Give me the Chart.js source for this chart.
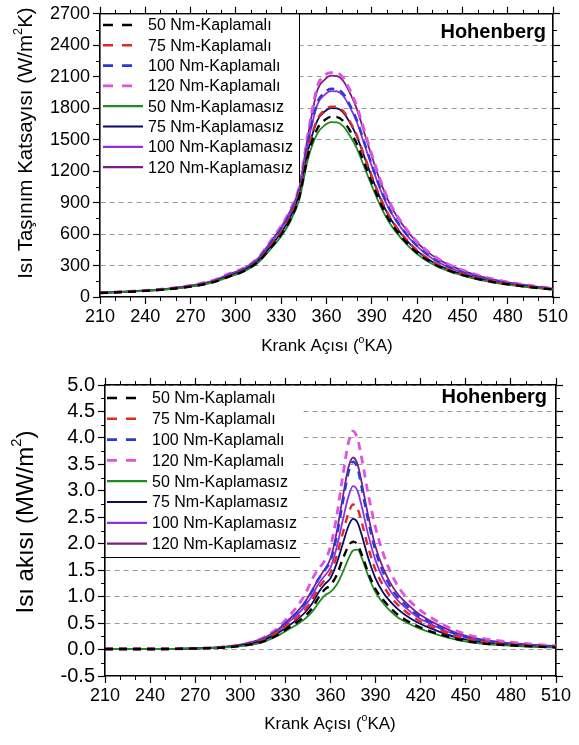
<!DOCTYPE html>
<html>
<head>
<meta charset="utf-8">
<script src="https://cdn.jsdelivr.net/npm/chart.js@4.4.1/dist/chart.umd.min.js"></script>
<style>
html,body{margin:0;padding:0;background:#fff;}
canvas{display:block;}
</style>
</head>
<body>
<canvas id="hChart" width="579" height="360"></canvas>
<canvas id="qChart" width="579" height="385"></canvas>
<script>
// ---------- data ----------
const seriesNames = ['50 Nm-Kaplamalı','75 Nm-Kaplamalı','100 Nm-Kaplamalı','120 Nm-Kaplamalı',
                     '50 Nm-Kaplamasız','75 Nm-Kaplamasız','100 Nm-Kaplamasız','120 Nm-Kaplamasız'];

const xTickLabels = [210,240,270,300,330,360,390,420,450,480,510];
const hTickLabels = [0,300,600,900,1200,1500,1800,2100,2400,2700];
const qTickLabels = [-0.5,0,0.5,1,1.5,2,2.5,3,3.5,4,4.5,5];

// heat transfer coefficient, W/m2K
const angleH = [210,225,240,255,270,285,295,305,315,322,330,336,342,348,354,359,363,367,371,375,380,385,390,396,402,410,420,430,440,455,470,490,510];
const h50c  = [38,47,58,74,99,142,193,247,340,453,597,740,955,1370,1607,1689,1718,1715,1679,1597,1463,1277,1092,886,721,566,422,324,257,190,143,102,71];
const h75c  = [39,48,60,76,101,146,199,254,351,471,620,768,990,1423,1697,1784,1815,1812,1774,1686,1545,1349,1153,936,762,598,444,341,269,198,148,106,73];
const h100c = [40,49,61,78,105,152,209,266,368,497,655,806,1030,1503,1856,1951,1985,1981,1940,1845,1690,1476,1261,1023,833,654,488,373,293,214,158,111,77];
const h120c = [42,51,63,81,110,160,220,274,379,515,679,832,1060,1580,2012,2117,2140,2136,2091,1989,1822,1591,1360,1103,898,706,527,404,318,233,172,121,82];
const h50u  = [38,47,58,74,98,140,190,240,330,440,580,720,930,1330,1560,1640,1668,1665,1630,1550,1420,1240,1060,860,700,550,410,315,250,185,140,100,70];
const h75u  = [39,48,60,76,101,145,198,252,348,466,615,760,980,1410,1685,1771,1801,1798,1760,1674,1534,1339,1145,929,756,594,440,337,266,196,147,105,73];
const h100u = [40,49,61,78,104,151,207,264,365,493,650,800,1020,1490,1836,1930,1963,1960,1919,1824,1671,1459,1248,1012,824,647,482,368,290,212,157,110,76];
const h120u = [41,50,62,80,108,157,215,270,373,506,667,820,1045,1560,1973,2075,2110,2106,2062,1961,1796,1569,1341,1088,886,696,519,397,313,228,168,118,80];

// heat flux, MW/m2
const angleQ = [210,240,270,290,305,315,325,332,338,343,348,352,356,360,364,368,372,375,378,381,385,390,395,400,405,410,418,426,435,445,460,480,495,510];
const q50c  = [0.01,0.01,0.02,0.04,0.09,0.15,0.28,0.41,0.52,0.63,0.79,0.98,1.13,1.22,1.40,1.70,1.96,2.04,1.98,1.78,1.46,1.14,0.94,0.78,0.65,0.56,0.44,0.35,0.27,0.19,0.12,0.08,0.06,0.04];
const q75c  = [0.01,0.01,0.02,0.05,0.10,0.18,0.33,0.48,0.61,0.75,0.95,1.16,1.31,1.45,1.76,2.18,2.58,2.74,2.66,2.38,1.94,1.50,1.21,1.00,0.84,0.72,0.56,0.45,0.34,0.24,0.15,0.10,0.07,0.05];
const q100c = [0.01,0.01,0.02,0.05,0.11,0.20,0.37,0.55,0.71,0.88,1.12,1.33,1.49,1.68,2.12,2.75,3.35,3.55,3.42,3.02,2.44,1.86,1.46,1.18,0.98,0.84,0.65,0.52,0.40,0.28,0.18,0.11,0.08,0.06];
const q120c = [0.01,0.01,0.02,0.05,0.12,0.22,0.41,0.62,0.82,1.04,1.34,1.53,1.67,1.95,2.50,3.25,3.92,4.13,3.98,3.58,2.95,2.30,1.82,1.46,1.19,1.00,0.78,0.62,0.47,0.34,0.22,0.14,0.10,0.07];
const q50u  = [0.01,0.01,0.02,0.04,0.08,0.14,0.26,0.38,0.48,0.58,0.72,0.88,1.02,1.09,1.22,1.45,1.72,1.87,1.89,1.72,1.40,1.08,0.88,0.72,0.60,0.52,0.41,0.33,0.25,0.18,0.11,0.07,0.05,0.04];
const q75u  = [0.01,0.01,0.02,0.05,0.10,0.17,0.31,0.45,0.57,0.70,0.88,1.08,1.23,1.35,1.62,1.98,2.34,2.47,2.40,2.14,1.74,1.34,1.08,0.90,0.76,0.65,0.51,0.41,0.31,0.22,0.14,0.09,0.06,0.05];
const q100u = [0.01,0.01,0.02,0.05,0.11,0.19,0.35,0.52,0.66,0.82,1.03,1.24,1.39,1.55,1.92,2.42,2.90,3.09,3.00,2.68,2.18,1.68,1.34,1.10,0.92,0.79,0.61,0.49,0.37,0.27,0.17,0.11,0.08,0.06];
const q120u = [0.01,0.01,0.02,0.05,0.12,0.21,0.38,0.56,0.72,0.90,1.13,1.34,1.51,1.72,2.20,2.85,3.45,3.63,3.50,3.12,2.54,1.94,1.54,1.25,1.04,0.89,0.69,0.55,0.42,0.30,0.19,0.12,0.09,0.06];

// ---------- styling ----------
const FONT = '"Liberation Sans", Arial, Helvetica, sans-serif';
const lineStyles = [
  {color:'#000000', dash:[8,6], width:2.4},
  {color:'#e02a22', dash:[8,6], width:2.4},
  {color:'#2a3ad6', dash:[8,6], width:2.4},
  {color:'#e052e0', dash:[8,6], width:2.8},
  {color:'#1e8c1e', dash:[],    width:1.8},
  {color:'#0a0a6a', dash:[],    width:1.8},
  {color:'#8f2fe0', dash:[],    width:1.8},
  {color:'#7d1d80', dash:[],    width:1.8}
];

function buildDatasets(angles, seriesList) {
  return seriesList.map((vals, i) => ({
    label: seriesNames[i],
    data: angles.map((a, k) => ({x: a, y: vals[k]})),
    borderColor: lineStyles[i].color,
    borderDash: lineStyles[i].dash,
    borderWidth: lineStyles[i].width,
    pointRadius: 0,
    fill: false,
    cubicInterpolationMode: 'monotone'
  }));
}

// rich text with superscripts
function drawRich(ctx, parts, cx, cy, size, rotated) {
  ctx.save();
  ctx.translate(cx, cy);
  if (rotated) ctx.rotate(-Math.PI / 2);
  const supSize = size * 0.62;
  let total = 0;
  parts.forEach(p => {
    ctx.font = (p.sup ? supSize : size) + 'px ' + FONT;
    p.w = ctx.measureText(p.t).width;
    total += p.w;
  });
  let x = -total / 2;
  ctx.textBaseline = 'middle';
  ctx.textAlign = 'left';
  ctx.fillStyle = '#000';
  parts.forEach(p => {
    ctx.font = (p.sup ? supSize : size) + 'px ' + FONT;
    ctx.fillText(p.t, x, p.sup ? -size * 0.36 : 0);
    x += p.w;
  });
  ctx.restore();
}

// frame decorations: minor ticks, titles, in-plot legend and label
const decoPlugin = {
  id: 'deco',
  afterDraw(chart, args, o) {
    const ctx = chart.ctx;
    const a = chart.chartArea;
    const xs = chart.scales.x, ys = chart.scales.y;

    // minor ticks on all four sides
    ctx.save();
    ctx.strokeStyle = '#000';
    ctx.lineWidth = 1;
    ctx.beginPath();
    for (let v = xs.min; v <= xs.max + 1e-9; v += o.minorX) {
      if (Math.abs(((v - xs.min) / o.majorX) - Math.round((v - xs.min) / o.majorX)) < 1e-6) continue;
      const px = Math.round(xs.getPixelForValue(v)) + 0.5;
      ctx.moveTo(px, a.bottom); ctx.lineTo(px, a.bottom + 4);
      ctx.moveTo(px, a.top); ctx.lineTo(px, a.top - 4);
    }
    for (let v = ys.min; v <= ys.max + 1e-9; v += o.minorY) {
      if (Math.abs(((v - ys.min) / o.majorY) - Math.round((v - ys.min) / o.majorY)) < 1e-6) continue;
      const py = Math.round(ys.getPixelForValue(v)) + 0.5;
      ctx.moveTo(a.left, py); ctx.lineTo(a.left - 4, py);
      ctx.moveTo(a.right, py); ctx.lineTo(a.right + 4, py);
    }
    ctx.stroke();
    ctx.restore();

    // legend box
    const L = o.legend;
    ctx.save();
    ctx.fillStyle = '#fff';
    ctx.fillRect(a.left + 1, a.top + 1, L.right - a.left - 1, L.bottom - a.top - 1);
    ctx.strokeStyle = '#000';
    ctx.lineWidth = 1;
    ctx.beginPath();
    if (L.rightBorder) { ctx.moveTo(L.right + 0.5, a.top); ctx.lineTo(L.right + 0.5, L.bottom); }
    if (L.bottomBorder) { ctx.moveTo(a.left, L.bottom + 0.5); ctx.lineTo(L.right, L.bottom + 0.5); }
    ctx.stroke();
    chart.data.datasets.forEach((ds, i) => {
      const y = L.firstRow + i * L.rowGap;
      ctx.save();
      ctx.strokeStyle = ds.borderColor;
      ctx.lineWidth = ds.borderDash.length ? 2.6 : 2.2;
      ctx.setLineDash(ds.borderDash.length ? [10, 9] : []);
      ctx.beginPath();
      ctx.moveTo(L.sampleX0, y);
      ctx.lineTo(ds.borderDash.length ? L.sampleX1 - 2 : L.sampleX1, y);
      ctx.stroke();
      ctx.restore();
      ctx.fillStyle = '#000';
      ctx.font = L.size + 'px ' + FONT;
      ctx.textBaseline = 'middle';
      ctx.textAlign = 'left';
      ctx.fillText(ds.label, L.textX, y + 1);
    });
    ctx.restore();

    // model name
    ctx.save();
    ctx.font = 'bold 20px ' + FONT;
    ctx.fillStyle = '#000';
    ctx.textAlign = 'right';
    ctx.textBaseline = 'alphabetic';
    ctx.fillText(o.tag, o.tagX, o.tagY);
    ctx.restore();

    // axis titles
    drawRich(ctx, o.xTitle, o.xTitlePos[0], o.xTitlePos[1], o.xTitleSize, false);
    drawRich(ctx, o.yTitle, o.yTitlePos[0], o.yTitlePos[1], o.yTitleSize, true);
  }
};

function axes(xTicks, yTicks, yMin, yMax, box, yFmt, yFontSize) {
  const tickFont = {family: FONT, size: 18};
  const setTicks = list => s => { s.ticks = list.map(v => ({value: v})); };
  const gridY = {
    color: c => (c.tick && Math.abs(c.tick.value - yMin) < 1e-9) ? 'rgba(0,0,0,0)' : '#9a9a9a',
    lineWidth: 1, tickLength: 7, tickColor: '#000', tickWidth: 1.2, tickBorderDash: []
  };
  const gridX = {drawOnChartArea: false, tickLength: 7, tickColor: '#000', tickWidth: 1.2};
  const border = {color: '#000', width: 1.6};
  return {
    x: {type: 'linear', position: 'bottom', min: 210, max: 510,
        afterBuildTicks: setTicks(xTicks),
        ticks: {font: tickFont, color: '#000', padding: 2, maxRotation: 0, autoSkip: false},
        grid: gridX, border: border, afterFit: s => { s.height = box.bottom; }},
    x2: {type: 'linear', position: 'top', min: 210, max: 510,
        afterBuildTicks: setTicks(xTicks),
        ticks: {display: false}, grid: gridX, border: border,
        afterFit: s => { s.height = box.top; }},
    y: {type: 'linear', position: 'left', min: yMin, max: yMax,
        afterBuildTicks: setTicks(yTicks),
        ticks: {font: {family: FONT, size: yFontSize}, color: '#000', padding: 3, autoSkip: false, callback: yFmt},
        grid: gridY, border: Object.assign({dash: [5, 4]}, border),
        afterFit: s => { s.width = box.left; }},
    y2: {type: 'linear', position: 'right', min: yMin, max: yMax,
        afterBuildTicks: setTicks(yTicks),
        ticks: {display: false},
        grid: {drawOnChartArea: false, tickLength: 7, tickColor: '#000', tickWidth: 1.2},
        border: border, afterFit: s => { s.width = box.right; }}
  };
}

const xTitleParts = () => [{t: 'Krank Açısı ('}, {t: 'o', sup: true}, {t: 'KA)'}];

new Chart(document.getElementById('hChart'), {
  type: 'line',
  data: {datasets: buildDatasets(angleH, [h50c, h75c, h100c, h120c, h50u, h75u, h100u, h120u])},
  options: {
    responsive: false, animation: false,
    layout: {padding: 0},
    scales: axes(xTickLabels, hTickLabels, 0, 2700, {left: 100, right: 26, top: 13, bottom: 63}, v => String(v), 18),
    plugins: {
      legend: {display: false}, tooltip: {enabled: false},
      deco: {
        minorX: 10, majorX: 30, minorY: 150, majorY: 300,
        legend: {right: 299, bottom: 183, rightBorder: true, bottomBorder: false,
                 firstRow: 25, rowGap: 20.3, sampleX0: 103, sampleX1: 143, textX: 148, size: 16},
        tag: 'Hohenberg', tagX: 546, tagY: 38,
        xTitle: xTitleParts(), xTitlePos: [327, 346], xTitleSize: 17,
        yTitle: [{t: 'Isı Taşınım Katsayısı (W/m'}, {t: '2', sup: true}, {t: 'K)'}],
        yTitlePos: [26, 143], yTitleSize: 20.5
      }
    }
  },
  plugins: [decoPlugin]
});

new Chart(document.getElementById('qChart'), {
  type: 'line',
  data: {datasets: buildDatasets(angleQ, [q50c, q75c, q100c, q120c, q50u, q75u, q100u, q120u])},
  options: {
    responsive: false, animation: false,
    layout: {padding: 0},
    scales: axes(xTickLabels, qTickLabels, -0.5, 5, {left: 105, right: 23, top: 25, bottom: 69}, v => v.toFixed(1), 20),
    plugins: {
      legend: {display: false}, tooltip: {enabled: false},
      deco: {
        minorX: 10, majorX: 30, minorY: 0.25, majorY: 0.5,
        legend: {right: 300, bottom: 197, rightBorder: false, bottomBorder: true,
                 firstRow: 38, rowGap: 20.8, sampleX0: 107, sampleX1: 147, textX: 152, size: 16},
        tag: 'Hohenberg', tagX: 547, tagY: 43,
        xTitle: xTitleParts(), xTitlePos: [330, 364], xTitleSize: 17,
        yTitle: [{t: 'Isı akısı (MW/m'}, {t: '2', sup: true}, {t: ')'}],
        yTitlePos: [26, 162], yTitleSize: 24
      }
    }
  },
  plugins: [decoPlugin]
});
</script>
</body>
</html>
